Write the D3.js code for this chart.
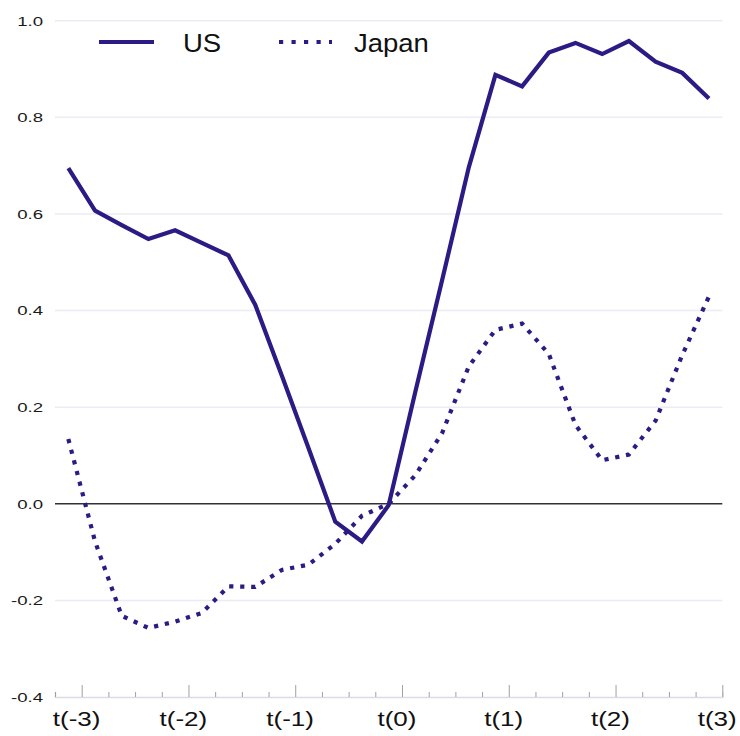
<!DOCTYPE html>
<html>
<head>
<meta charset="utf-8">
<script src="https://cdn.jsdelivr.net/npm/d3@7"></script>
<style>
  html, body { margin: 0; padding: 0; background: #fff; }
  svg { display: block; font-family: "Liberation Sans", Arial, Helvetica, sans-serif; }
</style>
</head>
<body>
<svg id="chart" width="740" height="736"></svg>
<script>
// ---- data ----
const quarters = [-3.125, -2.875, -2.625, -2.375, -2.125, -1.875, -1.625, -1.375, -1.125,
                  -0.875, -0.625, -0.375, -0.125, 0.125, 0.375, 0.625, 0.875, 1.125,
                  1.375, 1.625, 1.875, 2.125, 2.375, 2.625, 2.875];
const usValues = [0.695, 0.607, 0.577, 0.548, 0.566, 0.540, 0.514, 0.412, 0.265,
                  0.115, -0.037, -0.078, -0.003, 0.232, 0.462, 0.696, 0.888, 0.864,
                  0.934, 0.954, 0.931, 0.958, 0.915, 0.892, 0.839];
const japanValues = [0.134, -0.078, -0.232, -0.257, -0.244, -0.226, -0.171, -0.172, -0.137,
                     -0.126, -0.083, -0.025, 0.000, 0.059, 0.146, 0.284, 0.360, 0.373,
                     0.310, 0.163, 0.090, 0.102, 0.172, 0.308, 0.429];
const seriesNames = ["US", "Japan"];
const yTickValues = [-0.4, -0.2, 0.0, 0.2, 0.4, 0.6, 0.8, 1.0];
const yTickLabels = ["-0.4", "-0.2", "0.0", "0.2", "0.4", "0.6", "0.8", "1.0"];
const xMajorTicks = [-3, -2, -1, 0, 1, 2, 3];
const xMajorLabels = ["t(-3)", "t(-2)", "t(-1)", "t(0)", "t(1)", "t(2)", "t(3)"];
const xMinorTicks = [-3.25, -2.75, -2.5, -2.25, -1.75, -1.5, -1.25, -0.75, -0.5, -0.25,
                     0.25, 0.5, 0.75, 1.25, 1.5, 1.75, 2.25, 2.5, 2.75];

// ---- layout ----
const color = "#2c1b84";
const svg = d3.select("#chart");
const x = d3.scaleLinear().domain([-3.25, 3]).range([55, 722.3]);
const y = d3.scaleLinear().domain([-0.4, 1.0]).range([697, 20.7]);

// gridlines
svg.append("g").selectAll("line")
  .data(yTickValues.filter(v => v !== 0 && v !== -0.4))
  .join("line")
  .attr("x1", x.range()[0]).attr("x2", x.range()[1])
  .attr("y1", d => y(d)).attr("y2", d => y(d))
  .attr("stroke", "#ecebf5").attr("stroke-width", 1.5);

// y axis labels
const yAxis = svg.append("g")
  .attr("transform", `translate(${x.range()[0]},0)`)
  .call(d3.axisLeft(y).tickValues(yTickValues)
    .tickFormat((d, i) => yTickLabels[i]).tickSize(0).tickPadding(8.6));
yAxis.select(".domain").remove();
yAxis.selectAll("text")
  .attr("font-family", '"Liberation Sans", Arial, sans-serif')
  .attr("font-size", 13.5).attr("fill", "#1a1a1a")
  .attr("transform", "scale(1.38,1)");

// bottom axis: minor ticks
const minorAxis = svg.append("g")
  .attr("transform", `translate(0,${y(-0.4)})`)
  .call(d3.axisBottom(x).tickValues(xMinorTicks).tickSize(-5).tickFormat(""));
minorAxis.select(".domain").attr("stroke", "#dcdbe6").attr("stroke-width", 1.5);
minorAxis.selectAll(".tick line").attr("stroke", "#a0a0a0");

// bottom axis: major ticks + labels
const majorAxis = svg.append("g")
  .attr("transform", `translate(0,${y(-0.4)})`)
  .call(d3.axisBottom(x).tickValues(xMajorTicks)
    .tickFormat((d, i) => xMajorLabels[i]).tickSize(-12).tickPadding(14.3));
majorAxis.select(".domain").remove();
majorAxis.selectAll(".tick line").attr("stroke", "#a0a0a0");
majorAxis.selectAll("text")
  .attr("font-family", '"Liberation Sans", Arial, sans-serif')
  .attr("font-size", 21).attr("fill", "#111")
  .attr("x", -4.5)
  .attr("transform", "scale(1.24,1)");

// zero line
svg.append("line")
  .attr("x1", x.range()[0]).attr("x2", x.range()[1])
  .attr("y1", y(0)).attr("y2", y(0))
  .attr("stroke", "#333").attr("stroke-width", 1.5);

// lines
const line = d3.line().x((d, i) => x(quarters[i])).y(d => y(d));
svg.append("path").datum(japanValues)
  .attr("d", line).attr("fill", "none")
  .attr("stroke", color).attr("stroke-width", 4.2)
  .attr("stroke-dasharray", "4.2,6.8");
svg.append("path").datum(usValues)
  .attr("d", line).attr("fill", "none")
  .attr("stroke", color).attr("stroke-width", 4.2)
  .attr("stroke-linejoin", "miter");

// legend
const legend = svg.append("g");
const legendItems = [
  { name: seriesNames[0], x1: 99, x2: 154, tx: 183, dash: null },
  { name: seriesNames[1], x1: 279, x2: 332, tx: 354, dash: "4.2,8.3" }
];
legendItems.forEach(it => {
  legend.append("line")
    .attr("x1", it.x1).attr("x2", it.x2).attr("y1", 42).attr("y2", 42)
    .attr("stroke", color).attr("stroke-width", 4.2)
    .attr("stroke-dasharray", it.dash);
  legend.append("text")
    .attr("transform", `translate(${it.tx},51.5) scale(1.1,1)`)
    .attr("font-size", 25).attr("fill", "#111")
    .text(it.name);
});
</script>
</body>
</html>
